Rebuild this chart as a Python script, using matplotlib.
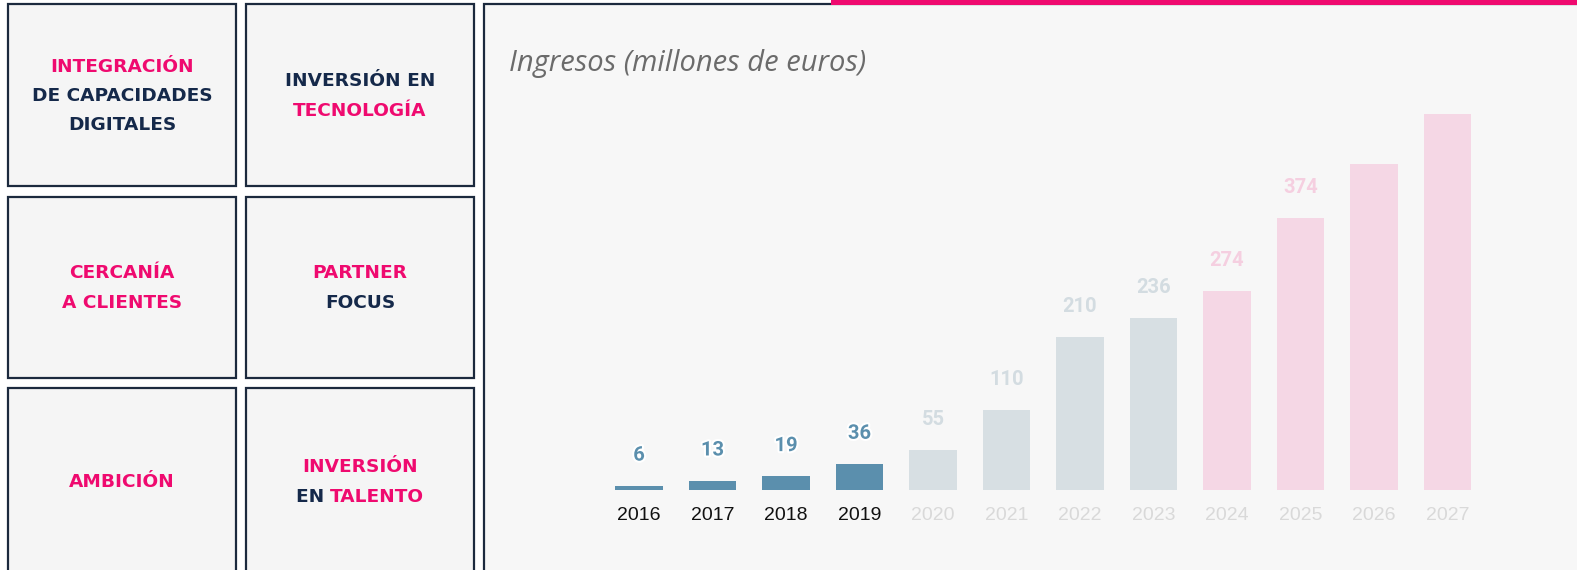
import matplotlib
matplotlib.use("Agg")
import matplotlib.pyplot as plt
import matplotlib.patheffects as pe
from matplotlib.patches import Rectangle

W, H = 1577, 570
DPI = 100

PINK = "#ef0a6f"
NAVY = "#15294a"
FRAME = "#1c2a3e"

# data
years = ["2016", "2017", "2018", "2019", "2020", "2021",
         "2022", "2023", "2024", "2025", "2026", "2027"]
revenue = [6, 13, 19, 36, 55, 110, 210, 236, 274, 374, 449, 517]
value_labels = ["6", "13", "19", "36", "55", "110", "210", "236", "274", "374", "", ""]
phase = ["real", "real", "real", "real", "past", "past",
         "past", "past", "plan", "plan", "plan", "plan"]

# each box: list of lines, each line a list of (text, colour key)
boxes = [
    [[("INTEGRACIÓN", "p")], [("DE CAPACIDADES", "n")], [("DIGITALES", "n")]],
    [[("INVERSIÓN EN", "n")], [("TECNOLOGÍA", "p")]],
    [[("CERCANÍA", "p")], [("A CLIENTES", "p")]],
    [[("PARTNER", "p")], [("FOCUS", "n")]],
    [[("AMBICIÓN", "p")]],
    [[("INVERSIÓN", "p")], [("EN ", "n"), ("TALENTO", "p")]],
]
title = "Ingresos (millones de euros)"

bar_col = {"real": "#5b8fad", "past": "#d7dfe3", "plan": "#f5d7e5"}
lab_col = {"real": "#5b8fad", "past": "#d3dce1", "plan": "#f5cfe0"}
tick_col = {"real": "#111111", "past": "#d9d9d9", "plan": "#d9d9d9"}
txt_col = {"p": PINK, "n": NAVY}

fig = plt.figure(figsize=(W / DPI, H / DPI), dpi=DPI)
fig.patch.set_facecolor("white")

# background layer in pixel coordinates
bg = fig.add_axes([0, 0, 1, 1])
bg.set_xlim(0, W)
bg.set_ylim(H, 0)
bg.axis("off")

col_x = [(8, 236), (246, 474)]
row_y = [(4, 186), (197, 378), (388, 576)]
for i, lines in enumerate(boxes):
    r, c = divmod(i, 2)
    x0, x1 = col_x[c]
    y0, y1 = row_y[r]
    bg.add_patch(Rectangle((x0, y0), x1 - x0, y1 - y0, facecolor="#f5f5f5",
                           edgecolor=FRAME, lw=1.6))

# chart panel
bg.add_patch(Rectangle((484, 4), 1200, 700, facecolor="#f7f7f7",
                       edgecolor=FRAME, lw=1.6))
bg.add_patch(Rectangle((831, -2), 800, 7, facecolor=PINK, edgecolor="none"))

bg.text(509, 64, title, fontsize=21, style="italic", color="#6b6b6b",
        family="Open Sans", va="center", ha="left")

# box texts (mixed colours on a line are laid out piece by piece)
renderer = fig.canvas.get_renderer()
line_gap = 29.5
centers = [96, 96, 288, 288, 482, 482]
for i, lines in enumerate(boxes):
    r, c = divmod(i, 2)
    cx = sum(col_x[c]) / 2
    n = len(lines)
    for k, parts in enumerate(lines):
        cy = centers[i] + (k - (n - 1) / 2) * line_gap
        arts = []
        for s, key in parts:
            t = bg.text(0, cy, s, fontsize=13.3, fontweight="bold",
                        family="DejaVu Sans", color=txt_col[key],
                        ha="left", va="center")
            arts.append(t)
        widths = [a.get_window_extent(renderer).width for a in arts]
        x = cx - sum(widths) / 2
        for a, w in zip(arts, widths):
            a.set_x(x)
            x += w

# bar chart
step = 73.5
left_px = 639 - step / 2
base_px = 490
scale = 0.727  # px per unit
top_val = 560
ax = fig.add_axes([left_px / W, (H - base_px) / H, 12 * step / W,
                   top_val * scale / H])
ax.set_facecolor("none")
xs = list(range(len(years)))
ax.bar(xs, revenue, width=0.65, color=[bar_col[p] for p in phase])
ax.set_xlim(-0.5, len(years) - 0.5)
ax.set_ylim(0, top_val)
for x, v, lab, p in zip(xs, revenue, value_labels, phase):
    if not lab:
        continue
    t = ax.annotate(lab, (x, v), xytext=(0, 22), textcoords="offset points",
                    ha="center", va="center", fontsize=14.5, fontweight="bold",
                    family="Roboto", color=lab_col[p])
    if p == "real":
        t.set_path_effects([pe.withStroke(linewidth=3, foreground="white")])

ax.set_xticks(xs)
ax.set_xticklabels(years, fontsize=14, family="Liberation Sans")
for tl, p in zip(ax.get_xticklabels(), phase):
    tl.set_color(tick_col[p])
ax.tick_params(axis="x", length=0, pad=12)
ax.set_yticks([])
for s in ax.spines.values():
    s.set_visible(False)

fig.savefig("out.png", dpi=DPI, facecolor=fig.get_facecolor())
